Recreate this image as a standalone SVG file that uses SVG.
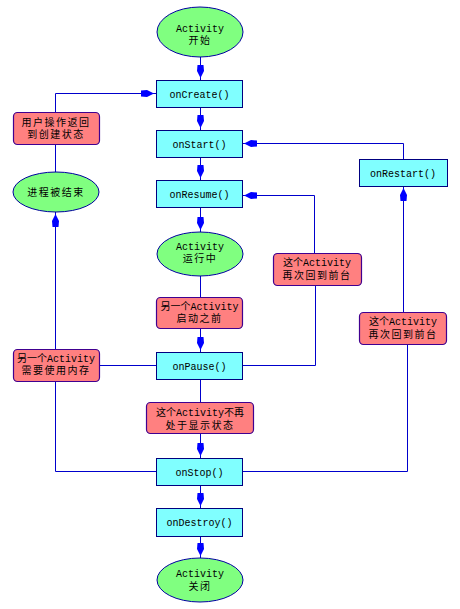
<svg xmlns="http://www.w3.org/2000/svg" width="460" height="609" viewBox="0 0 460 609">
<defs>
<marker id="ah" markerUnits="userSpaceOnUse" viewBox="0 -5 15 10" refX="15" refY="0" markerWidth="15" markerHeight="10" orient="auto">
<path d="M0,-3 L6,-3.5 L13,0 L6,3.5 L0,3 Z" fill="#0000FF"/>
</marker>
<style>
.ell{fill:#80FF80;stroke:#0000A0;stroke-width:1}
.box{fill:#80FFFF;stroke:#000080;stroke-width:1}
.pink{fill:#FF8080;stroke:#400090;stroke-width:1.2}
.t{font-family:"Liberation Mono","Noto Sans CJK SC",monospace;font-size:10px;fill:#000;text-anchor:middle}
.c{font-family:"Noto Sans CJK SC",sans-serif;letter-spacing:1.5px}
.c1{font-family:"Noto Sans CJK SC",sans-serif;font-size:10px;fill:#000;text-anchor:middle;letter-spacing:1.5px}
.ln{fill:none;stroke:#0000CC;stroke-width:1}
.ar{fill:none;stroke:#0000CC;stroke-width:1;marker-end:url(#ah)}
</style>
</defs>
<rect width="460" height="609" fill="#fff"/>
<g id="connectors">
<path class="ar" d="M200.5,57 V80"/>
<path class="ar" d="M200.5,107 V130"/>
<path class="ar" d="M200.5,157 V180"/>
<path class="ar" d="M200.5,207 V232"/>
<path class="ln" d="M200.5,276 V297"/>
<path class="ar" d="M200.5,328 V352"/>
<path class="ln" d="M200.5,379 V402"/>
<path class="ar" d="M200.5,433 V458"/>
<path class="ar" d="M200.5,485 V508"/>
<path class="ar" d="M200.5,536 V558"/>
<path class="ln" d="M156,365.5 H99"/>
<path class="ln" d="M156,471.5 H55.5 V381"/>
<path class="ar" d="M55.5,349 V212"/>
<path class="ln" d="M55.5,172 V144"/>
<path class="ar" d="M55.5,112 V93.5 H156"/>
<path class="ln" d="M242,365.5 H315.5 V285"/>
<path class="ar" d="M314.5,253 V195.5 H242"/>
<path class="ln" d="M242,471.5 H407.5 V344"/>
<path class="ar" d="M403.5,312 V186"/>
<path class="ar" d="M403.5,159 V143.5 H242"/>
</g>
<g id="start">
<ellipse class="ell" cx="200" cy="32" rx="43" ry="25"/>
<text class="t" x="200" y="31.5">Activity<tspan class="c" x="200" dy="12.5">开始</tspan></text>
</g>
<g id="onCreate">
<rect class="box" x="156.5" y="80.5" width="86" height="27"/>
<text class="t" x="199.5" y="97.5">onCreate()</text>
</g>
<g id="onStart">
<rect class="box" x="156.5" y="130.5" width="86" height="27"/>
<text class="t" x="199.5" y="147.5">onStart()</text>
</g>
<g id="onResume">
<rect class="box" x="156.5" y="180.5" width="86" height="27"/>
<text class="t" x="199.5" y="197.5">onResume()</text>
</g>
<g id="running">
<ellipse class="ell" cx="200" cy="254" rx="43" ry="22"/>
<text class="t" x="200" y="249.5">Activity<tspan class="c" x="200" dy="12.5">运行中</tspan></text>
</g>
<g id="beforeOther">
<rect class="pink" x="156.5" y="297.5" width="86" height="31" rx="4"/>
<text class="t" x="199.5" y="309.5">另一个Activity<tspan class="c" x="199.5" dy="12.5">启动之前</tspan></text>
</g>
<g id="onPause">
<rect class="box" x="156.5" y="352.5" width="86" height="27"/>
<text class="t" x="199.5" y="369.5">onPause()</text>
</g>
<g id="notVisible">
<rect class="pink" x="146.5" y="402.5" width="107" height="31" rx="4"/>
<text class="t" x="200" y="416">这个Activity不再<tspan class="c" x="200" dy="12.5">处于显示状态</tspan></text>
</g>
<g id="onStop">
<rect class="box" x="156.5" y="458.5" width="86" height="27"/>
<text class="t" x="199.5" y="475.5">onStop()</text>
</g>
<g id="onDestroy">
<rect class="box" x="156.5" y="508.5" width="86" height="28"/>
<text class="t" x="199.5" y="526">onDestroy()</text>
</g>
<g id="end">
<ellipse class="ell" cx="200" cy="580" rx="43" ry="22"/>
<text class="t" x="200" y="576.5">Activity<tspan class="c" x="200" dy="13">关闭</tspan></text>
</g>
<g id="userBack">
<rect class="pink" x="13.5" y="112.5" width="86" height="32" rx="4"/>
<text class="c1" x="56" y="125.5">用户操作返回<tspan x="56" dy="12.5">到创建状态</tspan></text>
</g>
<g id="killed">
<ellipse class="ell" cx="56" cy="192" rx="43" ry="20"/>
<text class="c1" x="56" y="196">进程被结束</text>
</g>
<g id="needMemory">
<rect class="pink" x="13.5" y="349.5" width="86" height="32" rx="4"/>
<text class="t" x="56" y="361.5">另一个Activity<tspan class="c" x="56" dy="12.5">需要使用内存</tspan></text>
</g>
<g id="backFront1">
<rect class="pink" x="273.5" y="253.5" width="88" height="32" rx="4"/>
<text class="t" x="317" y="266">这个Activity<tspan class="c" x="317" dy="12.5">再次回到前台</tspan></text>
</g>
<g id="onRestart">
<rect class="box" x="359.5" y="159.5" width="88" height="27"/>
<text class="t" x="403" y="176.5">onRestart()</text>
</g>
<g id="backFront2">
<rect class="pink" x="359.5" y="312.5" width="87" height="32" rx="4"/>
<text class="t" x="403" y="325">这个Activity<tspan class="c" x="403" dy="12.5">再次回到前台</tspan></text>
</g>
</svg>
